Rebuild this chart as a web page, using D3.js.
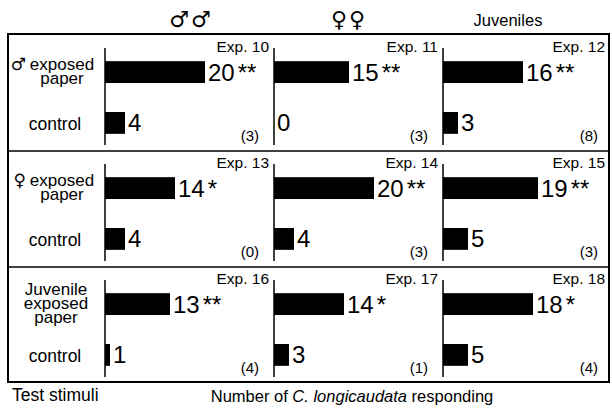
<!DOCTYPE html>
<html>
<head>
<meta charset="utf-8">
<script src="https://cdn.jsdelivr.net/npm/d3@7"></script>
<style>
  body { margin: 0; background: #fff; }
  text { font-family: "Liberation Sans", Arial, sans-serif; fill: #000; }
  .sym { font-family: "DejaVu Sans", sans-serif; }
</style>
</head>
<body>
<div id="chart"></div>
<script>
// data
var columns = ["♂♂", "♀♀", "Juveniles"];
var stimuli = ["male", "female", "juvenile"];
var stimulusLines = [["exposed", "paper"], ["exposed", "paper"], ["Juvenile", "exposed", "paper"]];
var stimulusSymbols = ["♂", "♀", ""];
var experiments = [10, 11, 12, 13, 14, 15, 16, 17, 18];
var exposed = [20, 15, 16, 14, 20, 19, 13, 14, 18];
var control = [4, 0, 3, 4, 4, 5, 1, 3, 5];
var signif = ["**", "**", "**", "*", "**", "**", "**", "*", "*"];
var noChoice = [3, 3, 8, 0, 3, 3, 4, 1, 4];

var width = 612, height = 410;

var svg = d3.select("#chart").append("svg")
    .attr("width", width)
    .attr("height", height);

// panel scales
var col = d3.scaleBand().domain(d3.range(3)).range([105, 612]);
var row = d3.scaleBand().domain(d3.range(3)).range([34, 382]);
var inner = d3.scaleBand().domain(["exposed", "control"])
    .range([17, 110]).paddingInner(0.57).paddingOuter(0.2);
var x = d3.scaleLinear().domain([0, 20]).range([0, 100]);

var cells = experiments.map(function(e, i) {
    return {exp: e, r: Math.floor(i / 3), c: i % 3,
            exposed: exposed[i], control: control[i], sig: signif[i], n: noChoice[i]};
});

// frame
svg.append("rect")
    .attr("x", 8).attr("y", row(0))
    .attr("width", 601).attr("height", row(2) + row.bandwidth() - row(0))
    .attr("fill", "none").attr("stroke", "#000").attr("stroke-width", 2);

svg.selectAll("line.sep").data([1, 2]).enter().append("line")
    .attr("class", "sep")
    .attr("x1", 8).attr("x2", 609)
    .attr("y1", function(d) { return row(d) + 1; })
    .attr("y2", function(d) { return row(d) + 1; })
    .attr("stroke", "#000").attr("stroke-width", 1.5);

// column headers
var headerX = [86, 75, 65];
svg.selectAll("text.head").data(columns).enter().append("text")
    .attr("class", function(d, i) { return i < 2 ? "head sym" : "head"; })
    .attr("x", function(d, i) { return col(i) + headerX[i]; })
    .attr("y", function(d, i) { return i < 2 ? 27 : 26; })
    .attr("text-anchor", "middle")
    .style("font-size", function(d, i) { return i < 2 ? "22px" : "16.5px"; })
    .style("letter-spacing", function(d, i) { return i < 2 ? "2px" : null; })
    .text(function(d) { return d; });

// row labels (one text block per stimulus, lines as tspans)
var rowLab = svg.selectAll("g.rowlab").data(stimuli).enter().append("g")
    .attr("class", "rowlab")
    .attr("transform", function(d, i) { return "translate(0," + row(i) + ")"; });

rowLab.each(function(d, i) {
    var g = d3.select(this);
    var lines = stimulusLines[i];
    var cy = inner("exposed") + inner.bandwidth() / 2;
    var cx = stimulusSymbols[i] ? 62 : 56;
    var block = g.append("text").style("font-size", "17px");
    if (stimulusSymbols[i]) {
        block.append("tspan")
            .attr("class", "sym")
            .attr("x", 26)
            .attr("y", cy + 5 - 7)
            .attr("text-anchor", "end")
            .text(stimulusSymbols[i]);
    }
    lines.forEach(function(t, k) {
        block.append("tspan")
            .attr("x", cx)
            .attr("y", cy + 5 + (k - (lines.length - 1) / 2) * 14)
            .attr("text-anchor", "middle")
            .text(t);
    });
    g.append("text")
        .attr("x", 55)
        .attr("y", inner("control") + inner.bandwidth() / 2 + 7)
        .attr("text-anchor", "middle")
        .style("font-size", "17.5px")
        .text("control");
});

// panels
var panel = svg.selectAll("g.panel").data(cells).enter().append("g")
    .attr("class", "panel")
    .attr("transform", function(d) { return "translate(" + col(d.c) + "," + row(d.r) + ")"; });

panel.append("line")
    .attr("x1", 0).attr("x2", 0)
    .attr("y1", 14).attr("y2", 111)
    .attr("stroke", "#000").attr("stroke-width", 1.5);

panel.append("text")
    .attr("x", function(d) { return d.c < 2 ? col.step() - 5 : 609 - col(d.c) - 4; })
    .attr("y", 17.5)
    .attr("text-anchor", "end")
    .style("font-size", "15.5px")
    .text(function(d) { return "Exp. " + d.exp; });

panel.append("rect")
    .attr("x", 0)
    .attr("y", inner("exposed"))
    .attr("width", function(d) { return x(d.exposed); })
    .attr("height", inner.bandwidth())
    .attr("fill", "#000");

panel.append("rect")
    .attr("x", 0)
    .attr("y", inner("control"))
    .attr("width", function(d) { return x(d.control); })
    .attr("height", inner.bandwidth())
    .attr("fill", "#000");

var lab = panel.append("text")
    .attr("x", function(d) { return x(d.exposed) + 3; })
    .attr("y", inner("exposed") + inner.bandwidth() / 2 + 8.5)
    .style("font-size", "24px");
lab.append("tspan").text(function(d) { return d.exposed; });
lab.append("tspan").attr("dx", 3).text(function(d) { return d.sig; });

panel.append("text")
    .attr("x", function(d) { return x(d.control) + 3; })
    .attr("y", inner("control") + inner.bandwidth() / 2 + 8.5)
    .style("font-size", "24px")
    .text(function(d) { return d.control; });

panel.append("text")
    .attr("x", function(d) { return d.c < 2 ? col.step() - 15 : 609 - col(d.c) - 11; })
    .attr("y", 107)
    .attr("text-anchor", "end")
    .style("font-size", "15px")
    .text(function(d) { return "(" + d.n + ")"; });

// bottom titles
svg.append("text")
    .attr("x", 12).attr("y", 401)
    .style("font-size", "17.5px")
    .text("Test stimuli");

var xt = svg.append("text")
    .attr("x", 352).attr("y", 402)
    .attr("text-anchor", "middle")
    .style("font-size", "16.5px");
xt.append("tspan").text("Number of ");
xt.append("tspan").style("font-style", "italic").text("C. longicaudata");
xt.append("tspan").text(" responding");
</script>
</body>
</html>
